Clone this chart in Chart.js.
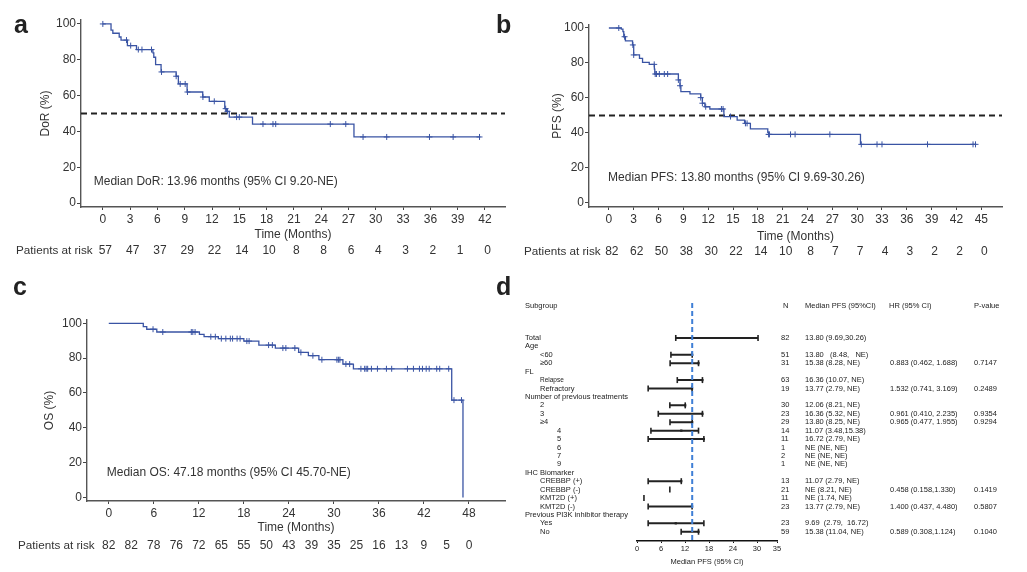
<!DOCTYPE html>
<html>
<head>
<meta charset="utf-8">
<script src="https://cdn.jsdelivr.net/npm/chart.js@4.4.1/dist/chart.umd.min.js"></script>
<style>
  body { margin: 0; background: #fff; width: 1027px; height: 572px; position: relative; overflow: hidden;
         font-family: "Liberation Sans", Arial, Helvetica, sans-serif; }
  canvas { position: absolute; }
  .lab { position: absolute; font-weight: bold; font-size: 25px; line-height: 1; color: #222; }
</style>
</head>
<body>
<canvas id="kmA" width="510" height="280" style="left:0;top:0"></canvas>
<canvas id="kmB" width="517" height="280" style="left:510px;top:0"></canvas>
<canvas id="kmC" width="510" height="292" style="left:0;top:280px"></canvas>
<canvas id="forest" width="517" height="292" style="left:510px;top:280px"></canvas>
<div class="lab" style="left:14px;top:12px">a</div>
<div class="lab" style="left:496px;top:12px">b</div>
<div class="lab" style="left:13px;top:274px">c</div>
<div class="lab" style="left:496px;top:274px">d</div>
<script>
// ---- panel a: DoR ----
const dorTicks = [0, 3, 6, 9, 12, 15, 18, 21, 24, 27, 30, 33, 36, 39, 42];
const dorRisk = [57, 47, 37, 29, 22, 14, 10, 8, 8, 6, 4, 3, 2, 1, 0];
const dorEventTimes = [0.9, 1.1, 1.8, 2.0, 2.7, 3.7, 5.5, 5.6, 5.8, 6.4, 8.06, 8.3, 9.26, 10.98, 11.7, 13.4, 13.6, 13.9, 16.45, 27.6];
const dorSurvival = [96.5, 94.8, 92.7, 91.0, 87.9, 85.7, 83.8, 81.4, 77.3, 73.2, 70.8, 66.5, 62.0, 59.2, 56.8, 52.7, 51.2, 48.0, 44.1, 36.9];
const dorCensored = [0, 2.6, 3.06, 3.9, 4.3, 5.35, 6.45, 8.06, 8.5, 9.05, 9.3, 11.0, 12.25, 13.5, 13.7, 14.7, 15.0, 17.6, 18.7, 19.0, 25.0, 26.7, 28.6, 31.2, 35.9, 38.5, 41.4];
const dorLastFollowUp = 41.5;

// ---- panel b: PFS ----
const pfsTicks = [0, 3, 6, 9, 12, 15, 18, 21, 24, 27, 30, 33, 36, 39, 42, 45];
const pfsRisk = [82, 62, 50, 38, 30, 22, 14, 10, 8, 7, 7, 4, 3, 2, 2, 0];
const pfsEventTimes = [1.5, 1.7, 1.8, 2.0, 2.86, 3.0, 3.7, 4.07, 4.88, 5.5, 5.55, 8.4, 8.6, 8.7, 9.8, 11.1, 11.3, 11.6, 12.2, 13.9, 15.5, 16.4, 17.1, 19.2, 19.3, 30.4];
const pfsSurvival = [99.4, 97.9, 95.0, 92.6, 90.3, 84.6, 82.6, 80.3, 79.2, 76.5, 73.7, 70.3, 67.0, 63.6, 62.4, 60.2, 57.0, 55.0, 53.7, 49.4, 47.4, 45.5, 42.3, 40.3, 39.2, 33.5];
const pfsCensored = [1.2, 1.9, 2.9, 3.0, 5.48, 5.6, 5.75, 6.1, 6.7, 7.1, 8.4, 8.6, 11.1, 11.3, 11.7, 13.6, 13.8, 14.7, 16.5, 16.7, 19.3, 19.4, 21.95, 22.5, 26.7, 30.5, 32.4, 33.0, 38.5, 44.0, 44.3];
const pfsLastFollowUp = 44.4;

// ---- panel c: OS ----
const osTicks = [0, 6, 12, 18, 24, 30, 36, 42, 48];
const osRiskTimes = [0, 3, 6, 9, 12, 15, 18, 21, 24, 27, 30, 33, 36, 39, 42, 45, 48];
const osRisk = [82, 82, 78, 76, 72, 65, 55, 50, 43, 39, 35, 25, 16, 13, 9, 5, 0];
const osEventTimes = [4.6, 5.06, 6.4, 12.08, 12.7, 14.6, 18.0, 20.0, 22.2, 25.3, 26.6, 28.0, 31.2, 32.6, 45.7, 47.2];
const osSurvival = [98.1, 96.6, 95.0, 93.7, 92.3, 91.2, 89.8, 87.5, 85.8, 83.3, 81.4, 79.1, 76.6, 73.9, 55.9, 0];
const osCensored = [5.9, 7.2, 11.0, 11.2, 11.5, 13.6, 14.2, 15.0, 15.6, 16.2, 16.5, 17.1, 17.5, 18.4, 18.7, 21.3, 21.8, 23.2, 23.6, 24.8, 25.6, 27.2, 28.4, 30.4, 30.6, 30.8, 31.6, 32.1, 33.6, 34.1, 34.3, 34.5, 35.0, 35.8, 37.0, 37.7, 39.8, 40.6, 41.4, 41.8, 42.3, 42.7, 43.7, 44.1, 45.3, 46.0, 47.0];
const osLastFollowUp = 47.2;

const percentTicks = [0, 20, 40, 60, 80, 100];

// ---- panel d: forest plot ----
const subgroupLabels = ['Total', 'Age', '<60', '≥60', 'FL', 'Relapse', 'Refractory', 'Number of previous treatments',
  '2', '3', '≥4', '4', '5', '6', '7', '9', 'IHC Biomarker', 'CREBBP (+)', 'CREBBP (-)', 'KMT2D (+)', 'KMT2D (-)',
  'Previous PI3K inhibitor therapy', 'Yes', 'No'];
const subgroupLevels = [0, 0, 1, 1, 0, 1, 1, 0, 1, 1, 1, 2, 2, 2, 2, 2, 0, 1, 1, 1, 1, 0, 1, 1];
const subgroupN = [82, null, 51, 31, null, 63, 19, null, 30, 23, 29, 14, 11, 1, 2, 1, null, 13, 21, 11, 23, null, 23, 59];
const pfsMedian = [13.80, null, 13.80, 15.38, null, 16.36, 13.77, null, 12.06, 16.36, 13.80, 11.07, 16.72, null, null, null, null, 11.07, null, null, 13.77, null, 9.69, 15.38];
const pfsLower = [9.69, null, 8.48, 8.28, null, 10.07, 2.79, null, 8.21, 5.32, 8.25, 3.48, 2.79, null, null, null, null, 2.79, 8.21, 1.74, 2.79, null, 2.79, 11.04];
const pfsUpper = [30.26, null, null, null, null, null, null, null, null, null, null, 15.38, null, null, null, null, null, null, null, null, null, null, 16.72, null];
const medianCiText = ['13.80 (9.69,30.26)', '', '13.80   (8.48,   NE)', '15.38 (8.28, NE)', '', '16.36 (10.07, NE)', '13.77 (2.79, NE)', '',
  '12.06 (8.21, NE)', '16.36 (5.32, NE)', '13.80 (8.25, NE)', '11.07 (3.48,15.38)', '16.72 (2.79, NE)', 'NE (NE, NE)', 'NE (NE, NE)', 'NE (NE, NE)', '',
  '11.07 (2.79, NE)', 'NE (8.21, NE)', 'NE (1.74, NE)', '13.77 (2.79, NE)', '', '9.69  (2.79,  16.72)', '15.38 (11.04, NE)'];
const hrText = ['', '', '', '0.883 (0.462, 1.688)', '', '', '1.532 (0.741, 3.169)', '', '', '0.961 (0.410, 2.235)', '0.965 (0.477, 1.955)',
  '', '', '', '', '', '', '', '0.458 (0.158,1.330)', '', '1.400 (0.437, 4.480)', '', '', '0.589 (0.308,1.124)'];
const pValueText = ['', '', '', '0.7147', '', '', '0.2489', '', '', '0.9354', '0.9294', '', '', '', '', '', '', '', '0.1419', '', '0.5807', '', '', '0.1040'];
const overallMedianPfs = 13.80;
const forestTicks = [0, 6, 12, 18, 24, 30, 35];

const FONT = '"Liberation Sans", Arial, Helvetica, sans-serif';
const BLUE = '#3A54A4';
const INK = '#333';
Chart.defaults.font.family = FONT;
Chart.defaults.color = INK;

function survAt(times, surv, t) {
  let s = 100;
  times.forEach((et, i) => { if (et <= t) s = surv[i]; });
  return s;
}

function kmChart(id, c) {
  const curve = [{ x: 0, y: 100 }].concat(c.times.map((t, i) => ({ x: t, y: c.surv[i] })));
  curve.push({ x: c.end, y: c.surv[c.surv.length - 1] });
  const marks = c.censored.map(t => ({ x: t, y: survAt(c.times, c.surv, t) }));
  const datasets = [
    { type: 'line', data: curve, stepped: 'before', borderColor: BLUE, borderWidth: 1.3, pointRadius: 0, fill: false },
    { type: 'scatter', data: marks, pointStyle: 'cross', pointRadius: 3, borderColor: BLUE, borderWidth: 1 }
  ];
  if (c.halfLine) {
    datasets.push({ type: 'line', data: [{ x: c.xmin, y: 50 }, { x: c.xmax, y: 50 }], borderColor: '#222',
      borderWidth: 2, borderDash: [6, 4], pointRadius: 0 });
  }
  const textPlugin = {
    id: 'kmText',
    afterDraw(chart) {
      const { ctx, scales: { x, y } } = chart;
      ctx.save();
      ctx.font = '12px ' + FONT;
      ctx.fillStyle = INK;
      ctx.textBaseline = 'middle';
      ctx.textAlign = 'left';
      ctx.fillText(c.note, x.getPixelForValue(c.noteAt[0]), y.getPixelForValue(c.noteAt[1]));
      ctx.font = '11.7px ' + FONT;
      ctx.fillText('Patients at risk', c.riskLabelX, c.riskY);
      ctx.font = '12px ' + FONT;
      ctx.textAlign = 'center';
      c.riskTimes.forEach((t, i) => ctx.fillText(String(c.risk[i]), x.getPixelForValue(t) + c.riskShift, c.riskY));
      ctx.restore();
    }
  };
  return new Chart(document.getElementById(id), {
    type: 'scatter',
    data: { datasets },
    options: {
      responsive: false,
      animation: false,
      layout: { padding: c.pad },
      plugins: { legend: { display: false }, tooltip: { enabled: false } },
      scales: {
        x: {
          type: 'linear', min: c.xmin, max: c.xmax,
          afterBuildTicks: s => { s.ticks = c.ticks.map(v => ({ value: v })); },
          afterFit: s => { s.height = c.xh; s.paddingLeft = 0; s.paddingRight = 0; },
          grid: { display: true, drawOnChartArea: false, drawTicks: true, tickLength: 3, color: '#444' },
          border: { display: true, color: '#555', width: 1.4 },
          ticks: { padding: 2, font: { size: 12 }, color: INK, maxRotation: 0, autoSkip: false },
          title: { display: true, text: 'Time (Months)', font: { size: 12 }, color: INK, padding: 0 }
        },
        y: {
          type: 'linear', min: c.ymin, max: c.ymax,
          afterBuildTicks: s => { s.ticks = percentTicks.map(v => ({ value: v })); },
          afterFit: s => { s.width = c.yw; s.paddingTop = 0; s.paddingBottom = 0; },
          grid: { display: true, drawOnChartArea: false, drawTicks: true, tickLength: 4, color: '#444' },
          border: { display: true, color: '#555', width: 1.4 },
          ticks: { padding: 1, font: { size: 12 }, color: INK },
          title: { display: true, text: c.yTitle, font: { size: 12 }, color: INK, padding: 0 }
        }
      }
    },
    plugins: [textPlugin]
  });
}

kmChart('kmA', {
  times: dorEventTimes, surv: dorSurvival, censored: dorCensored, end: dorLastFollowUp,
  ticks: dorTicks, riskTimes: dorTicks, risk: dorRisk, halfLine: true,
  xmin: -2.4, xmax: 44.2, ymin: -2.2, ymax: 102.2, yTitle: 'DoR (%)',
  note: 'Median DoR: 13.96 months (95% CI 9.20-NE)', noteAt: [-1.0, 11.7],
  pad: { left: 38, right: 3, top: 20, bottom: 38 }, yw: 43, xh: 35,
  riskLabelX: 16, riskY: 251, riskShift: 2.5
});

kmChart('kmB', {
  times: pfsEventTimes, surv: pfsSurvival, censored: pfsCensored, end: pfsLastFollowUp,
  ticks: pfsTicks, riskTimes: pfsTicks, risk: pfsRisk, halfLine: true,
  xmin: -2.4, xmax: 47.5, ymin: -2.3, ymax: 101.7, yTitle: 'PFS (%)',
  note: 'Median PFS: 13.80 months (95% CI 9.69-30.26)', noteAt: [-0.1, 14.5],
  pad: { left: 40, right: 25, top: 25, bottom: 36 }, yw: 39, xh: 37,
  riskLabelX: 14, riskY: 252, riskShift: 3
});

kmChart('kmC', {
  times: osEventTimes, surv: osSurvival, censored: osCensored, end: osLastFollowUp,
  ticks: osTicks, riskTimes: osRiskTimes, risk: osRisk, halfLine: false,
  xmin: -2.9, xmax: 52.8, ymin: -2.0, ymax: 101.9, yTitle: 'OS (%)',
  note: 'Median OS: 47.18 months (95% CI 45.70-NE)', noteAt: [-0.27, 14],
  pad: { left: 42, right: 5, top: 40, bottom: 37 }, yw: 45, xh: 34,
  riskLabelX: 18, riskY: 266, riskShift: 0
});

// ---- forest plot ----
const ciSegments = [];
const capPoints = [];
const medianPoints = [];
subgroupLabels.forEach((lab, i) => {
  const lo = pfsLower[i];
  if (lo == null) return;
  const hi = pfsUpper[i] != null ? pfsUpper[i] : pfsMedian[i];
  capPoints.push({ x: lo, y: i });
  if (hi != null) {
    ciSegments.push({ x: lo, y: i }, { x: hi, y: i }, { x: null, y: null });
    capPoints.push({ x: hi, y: i });
  }
  if (pfsMedian[i] != null) medianPoints.push({ x: pfsMedian[i], y: i });
});

const headerRow = -3.8;
const forestText = {
  id: 'forestText',
  afterDraw(chart) {
    const { ctx, scales: { y } } = chart;
    const indent = [15, 30, 47];
    ctx.save();
    ctx.font = '7.5px ' + FONT;
    ctx.fillStyle = '#222';
    ctx.textBaseline = 'middle';
    ctx.textAlign = 'left';
    const hy = y.getPixelForValue(headerRow);
    ctx.fillText('Subgroup', 15, hy);
    ctx.fillText('N', 273, hy);
    ctx.fillText('Median PFS (95%CI)', 295, hy);
    ctx.fillText('HR (95% CI)', 379, hy);
    ctx.fillText('P-value', 464, hy);
    subgroupLabels.forEach((lab, i) => {
      const py = y.getPixelForValue(i);
      ctx.font = (lab === 'Relapse' ? '6.5px ' : '7.5px ') + FONT;
      ctx.fillText(lab, indent[subgroupLevels[i]], py);
      ctx.font = '7.5px ' + FONT;
      if (subgroupN[i] != null) ctx.fillText(String(subgroupN[i]), 271, py);
      if (medianCiText[i]) ctx.fillText(medianCiText[i], 295, py);
      if (hrText[i]) ctx.fillText(hrText[i], 380, py);
      if (pValueText[i]) ctx.fillText(pValueText[i], 464, py);
    });
    ctx.restore();
  }
};

new Chart(document.getElementById('forest'), {
  type: 'scatter',
  data: {
    datasets: [
      { type: 'line', data: [{ x: overallMedianPfs, y: -4.15 }, { x: overallMedianPfs, y: 24.1 }],
        borderColor: '#3F7FD6', borderWidth: 2, borderDash: [5, 3], pointRadius: 0 },
      { type: 'scatter', data: medianPoints, pointStyle: 'rect', pointRadius: 1.6, backgroundColor: '#222', borderColor: '#222', borderWidth: 0 },
      { type: 'scatter', data: capPoints, pointStyle: 'line', rotation: 90, pointRadius: 3, borderColor: '#222', borderWidth: 1.6 },
      { type: 'line', data: ciSegments, borderColor: '#222', borderWidth: 2, pointRadius: 0, spanGaps: false, borderCapStyle: 'butt' }
    ]
  },
  options: {
    responsive: false,
    animation: false,
    layout: { padding: { left: 127, right: 250, top: 23, bottom: 5.5 } },
    plugins: { legend: { display: false }, tooltip: { enabled: false } },
    scales: {
      x: {
        type: 'linear', min: 0, max: 35,
        afterBuildTicks: s => { s.ticks = forestTicks.map(v => ({ value: v })); },
        afterFit: s => { s.height = 25.5; s.paddingLeft = 0; s.paddingRight = 0; },
        grid: { display: true, drawOnChartArea: false, drawTicks: true, tickLength: 2, color: '#111', lineWidth: 1 },
        border: { display: true, color: '#111', width: 1.6 },
        ticks: { padding: 1, font: { size: 7.5 }, color: '#222', maxRotation: 0, autoSkip: false },
        title: { display: true, text: 'Median PFS (95% CI)', font: { size: 7.5 }, color: '#222', padding: 0 }
      },
      y: { type: 'linear', min: -4.15, max: 24.1, reverse: true, display: false }
    }
  },
  plugins: [forestText]
});
</script>
</body>
</html>
